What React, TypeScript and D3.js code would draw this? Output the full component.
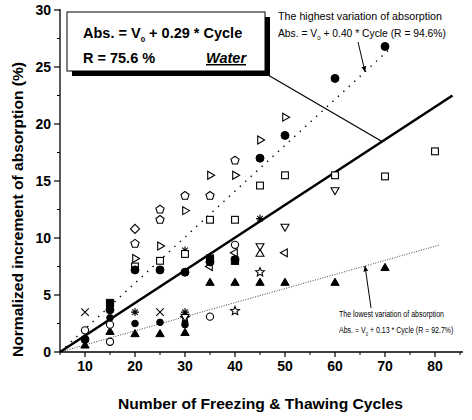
import React from "react";
import * as d3 from "d3";

// ---- data ----
const xTicks = [10, 20, 30, 40, 50, 60, 70, 80];
const yTicks = [0, 5, 10, 15, 20, 25, 30];

const filledCircleX = [10, 15, 20, 25, 30, 35, 40, 45, 50, 60, 70];
const filledCircleY = [1.1, 3.7, 7.2, 7.2, 7.0, 7.9, 8.1, 17.0, 19.0, 24.0, 26.8];
const triRightX = [20, 25, 30, 35, 40, 45, 50];
const triRightY = [8.2, 9.3, 12.4, 15.5, 15.5, 18.6, 20.6];
const pentagonX = [20, 25, 25, 30, 35, 40];
const pentagonY = [9.5, 12.5, 11.6, 13.7, 13.7, 16.8];
const diamondX = [20];
const diamondY = [10.8];
const squareX = [20, 25, 30, 35, 40, 45, 50, 60, 70, 80];
const squareY = [7.5, 8.0, 8.6, 11.6, 11.6, 14.6, 15.5, 15.5, 15.4, 17.6];
const triDownX = [30, 45, 50, 60];
const triDownY = [3.1, 9.3, 11.0, 14.2];
const triUpX = [45];
const triUpY = [8.6];
const filledTriX = [10, 15, 20, 25, 30, 35, 40, 45, 50, 60, 70];
const filledTriY = [0.6, 1.8, 1.6, 1.6, 1.7, 6.1, 6.1, 6.1, 6.1, 6.1, 7.4];
const openCircleX = [10, 15, 15, 35, 40];
const openCircleY = [1.9, 0.9, 2.4, 3.1, 9.4];
const crossX = [10, 25];
const crossY = [3.5, 3.5];
const asteriskX = [20, 30, 30, 45];
const asteriskY = [3.5, 3.5, 8.9, 11.7];
const filledDotX = [15, 20, 25, 30];
const filledDotY = [3.0, 2.5, 2.6, 2.4];
const starX = [30, 40, 45];
const starY = [3.0, 3.6, 7.0];
const triLeftX = [35, 40, 50];
const triLeftY = [7.5, 8.7, 8.7];
const filledSquareX = [15, 35, 40];
const filledSquareY = [4.3, 8.2, 8.0];

const mainFitX = [5, 83.5];
const mainFitY = [0, 22.5];
const highFitX = [5, 71];
const highFitY = [0, 26.6];
const lowFitX = [5, 81];
const lowFitY = [0, 9.4];

const W = 472;
const H = 420;
const FONT = "'Liberation Sans', Arial, Helvetica, sans-serif";

type MarkerKind =
  | "filledCircle"
  | "openCircle"
  | "triRight"
  | "triLeft"
  | "triDown"
  | "triUp"
  | "filledTri"
  | "pentagon"
  | "diamond"
  | "square"
  | "filledSquare"
  | "cross"
  | "asterisk"
  | "star"
  | "filledDot";

const series: { kind: MarkerKind; xs: number[]; ys: number[] }[] = [
  { kind: "filledTri", xs: filledTriX, ys: filledTriY },
  { kind: "openCircle", xs: openCircleX, ys: openCircleY },
  { kind: "cross", xs: crossX, ys: crossY },
  { kind: "asterisk", xs: asteriskX, ys: asteriskY },
  { kind: "filledDot", xs: filledDotX, ys: filledDotY },
  { kind: "star", xs: starX, ys: starY },
  { kind: "triLeft", xs: triLeftX, ys: triLeftY },
  { kind: "square", xs: squareX, ys: squareY },
  { kind: "triDown", xs: triDownX, ys: triDownY },
  { kind: "triUp", xs: triUpX, ys: triUpY },
  { kind: "pentagon", xs: pentagonX, ys: pentagonY },
  { kind: "diamond", xs: diamondX, ys: diamondY },
  { kind: "triRight", xs: triRightX, ys: triRightY },
  { kind: "filledSquare", xs: filledSquareX, ys: filledSquareY },
  { kind: "filledCircle", xs: filledCircleX, ys: filledCircleY },
];

function poly(cx: number, cy: number, r: number, n: number, rot: number) {
  const pts: string[] = [];
  for (let i = 0; i < n; i++) {
    const a = rot + (i * 2 * Math.PI) / n;
    pts.push(`${(cx + r * Math.cos(a)).toFixed(2)},${(cy + r * Math.sin(a)).toFixed(2)}`);
  }
  return pts.join(" ");
}

function starPts(cx: number, cy: number, r: number) {
  const pts: string[] = [];
  for (let i = 0; i < 10; i++) {
    const a = -Math.PI / 2 + (i * Math.PI) / 5;
    const rr = i % 2 === 0 ? r : r * 0.45;
    pts.push(`${(cx + rr * Math.cos(a)).toFixed(2)},${(cy + rr * Math.sin(a)).toFixed(2)}`);
  }
  return pts.join(" ");
}

function Marker({ kind, cx, cy }: { kind: MarkerKind; cx: number; cy: number }) {
  const s = { stroke: "#000", strokeWidth: 1.1, fill: "#fff" };
  const f = { stroke: "#000", strokeWidth: 1, fill: "#000" };
  switch (kind) {
    case "filledCircle":
      return <circle cx={cx} cy={cy} r={4} {...f} />;
    case "filledDot":
      return <circle cx={cx} cy={cy} r={3.3} {...f} />;
    case "openCircle":
      return <circle cx={cx} cy={cy} r={3.6} {...s} />;
    case "triRight":
      return <polygon points={poly(cx, cy, 4.6, 3, 0)} {...s} />;
    case "triLeft":
      return <polygon points={poly(cx, cy, 4.6, 3, Math.PI)} {...s} />;
    case "triDown":
      return <polygon points={poly(cx, cy, 4.6, 3, Math.PI / 2)} {...s} />;
    case "triUp":
      return <polygon points={poly(cx, cy, 4.6, 3, -Math.PI / 2)} {...s} />;
    case "filledTri":
      return <polygon points={poly(cx, cy + 0.5, 4.8, 3, -Math.PI / 2)} {...f} />;
    case "pentagon":
      return <polygon points={poly(cx, cy, 4.3, 5, -Math.PI / 2)} {...s} />;
    case "diamond":
      return <polygon points={poly(cx, cy, 4.6, 4, 0)} {...s} />;
    case "square":
      return <rect x={cx - 3.4} y={cy - 3.4} width={6.8} height={6.8} {...s} />;
    case "filledSquare":
      return <rect x={cx - 3.6} y={cy - 3.6} width={7.2} height={7.2} {...f} />;
    case "cross":
      return (
        <path
          d={`M${cx - 3.8},${cy - 3.8}L${cx + 3.8},${cy + 3.8}M${cx - 3.8},${cy + 3.8}L${cx + 3.8},${cy - 3.8}`}
          stroke="#000"
          strokeWidth={1.1}
        />
      );
    case "asterisk": {
      let d = "";
      for (let i = 0; i < 4; i++) {
        const a = (i * Math.PI) / 4;
        d += `M${cx - 4 * Math.cos(a)},${cy - 4 * Math.sin(a)}L${cx + 4 * Math.cos(a)},${cy + 4 * Math.sin(a)}`;
      }
      return <path d={d} stroke="#000" strokeWidth={1.1} />;
    }
    case "star":
      return <polygon points={starPts(cx, cy, 4.6)} {...s} />;
  }
  return null;
}

export default function App() {
  const x = d3.scaleLinear().domain([5, 85.6]).range([60, 463]);
  const y = d3.scaleLinear().domain([0, 30]).range([352, 10]);
  const line = d3
    .line<[number, number]>()
    .x((d) => x(d[0]))
    .y((d) => y(d[1]));
  const zip = (a: number[], b: number[]) => a.map((v, i) => [v, b[i]] as [number, number]);

  const xMinor = d3.range(5, 86, 5).filter((v) => v % 10 !== 0);
  const yMinor = d3.range(2.5, 30, 5);

  // callout target on the main line
  const tX = 69.4;
  const tY = mainFitY[0] + ((mainFitY[1] - mainFitY[0]) * (tX - mainFitX[0])) / (mainFitX[1] - mainFitX[0]);

  // annotation arrow targets
  const hiX = 66;
  const hiY = (highFitY[1] * (hiX - 5)) / (highFitX[1] - 5);
  const loX = 66;
  const loY = (lowFitY[1] * (loX - 5)) / (lowFitX[1] - 5);

  return (
    <svg
      width={W}
      height={H}
      style={{ position: "absolute", left: 0, top: 0, background: "#fff" }}
      fontFamily={FONT}
    >
      <defs>
        <marker id="ah" viewBox="0 0 10 10" refX="9" refY="5" markerWidth="6" markerHeight="6" orient="auto">
          <path d="M0,1L10,5L0,9z" fill="#000" />
        </marker>
      </defs>
      <rect width={W} height={H} fill="#fff" />

      {/* axes */}
      <line x1={60} y1={y(30) - 1} x2={60} y2={y(0)} stroke="#000" strokeWidth={1.3} />
      <line x1={60} y1={y(0)} x2={463} y2={y(0)} stroke="#000" strokeWidth={1.3} />
      {yTicks.map((t) => (
        <g key={"yt" + t}>
          <line x1={54} x2={60} y1={y(t)} y2={y(t)} stroke="#000" strokeWidth={1.2} />
          <text x={51} y={y(t) + 5} textAnchor="end" fontSize={14} fontWeight="bold">
            {t}
          </text>
        </g>
      ))}
      {yMinor.map((t) => (
        <line key={"ym" + t} x1={57} x2={60} y1={y(t)} y2={y(t)} stroke="#000" strokeWidth={1} />
      ))}
      {xTicks.map((t) => (
        <g key={"xt" + t}>
          <line x1={x(t)} x2={x(t)} y1={y(0)} y2={y(0) + 5} stroke="#000" strokeWidth={1.2} />
          <text x={x(t)} y={371} textAnchor="middle" fontSize={14} fontWeight="bold">
            {t}
          </text>
        </g>
      ))}
      {xMinor.map((t) => (
        <line key={"xm" + t} x1={x(t)} x2={x(t)} y1={y(0)} y2={y(0) + 3} stroke="#000" strokeWidth={1} />
      ))}
      <text
        x={118}
        y={409}
        fontSize={15}
        fontWeight="bold"
        textLength={285}
        lengthAdjust="spacingAndGlyphs"
      >
        Number of Freezing &amp; Thawing Cycles
      </text>
      <text
        transform={`translate(23,357) rotate(-90)`}
        fontSize={15}
        fontWeight="bold"
        textLength={295}
        lengthAdjust="spacingAndGlyphs"
      >
        Normalized increment of absorption (%)
      </text>

      {/* fit lines */}
      <path d={line(zip(lowFitX, lowFitY)) || ""} stroke="#444" strokeWidth={1} strokeDasharray="1 1.5" fill="none" />
      <path d={line(zip(highFitX, highFitY)) || ""} stroke="#000" strokeWidth={1.4} strokeDasharray="1.4 6" fill="none" />
      <path d={line(zip(mainFitX, mainFitY)) || ""} stroke="#000" strokeWidth={2.6} fill="none" />

      {/* data markers */}
      {series.map((s, si) =>
        s.xs.map((v, i) => <Marker key={si + "-" + i} kind={s.kind} cx={x(v)} cy={y(s.ys[i])} />)
      )}

      {/* legend box with shadow */}
      <line x1={268} y1={75} x2={x(tX)} y2={y(tY)} stroke="#000" strokeWidth={1.2} />
      <rect x={72} y={17} width={198} height={59} fill="#000" />
      <rect x={67} y={12} width={198} height={59} fill="#fff" stroke="#000" strokeWidth={1} />
      <text x={83} y={38} fontSize={14.5} fontWeight="bold">
        Abs. = V
        <tspan fontSize={8} dy={4}>
          0
        </tspan>
        <tspan dy={-4}> + 0.29 * Cycle</tspan>
      </text>
      <text x={83} y={63} fontSize={14.5} fontWeight="bold">
        R = 75.6 %
      </text>
      <text x={206} y={63} fontSize={14.5} fontWeight="bold" fontStyle="italic" textDecoration="underline">
        Water
      </text>

      {/* top annotation */}
      <text x={278} y={20} fontSize={10.3} textLength={164} lengthAdjust="spacingAndGlyphs">
        The highest variation of absorption
      </text>
      <text x={278} y={37} fontSize={10.3}>
        Abs. = V
        <tspan fontSize={6} dy={3}>
          0
        </tspan>
        <tspan dy={-3}> + 0.40 * Cycle (R = 94.6%)</tspan>
      </text>
      <line x1={358} y1={42} x2={x(hiX)} y2={y(hiY)} stroke="#000" strokeWidth={1} markerEnd="url(#ah)" />

      {/* bottom annotation */}
      <g transform="translate(339,317) scale(0.74,1)">
        <text x={0} y={0} fontSize={9.5}>
          The lowest variation of absorption
        </text>
      </g>
      <g transform="translate(339,333) scale(0.74,1)">
        <text x={0} y={0} fontSize={9.5}>
          Abs. = V
          <tspan fontSize={5.5} dy={3}>
            0
          </tspan>
          <tspan dy={-3}> + 0.13 * Cycle (R = 92.7%)</tspan>
        </text>
      </g>
      <line x1={371} y1={308} x2={x(loX)} y2={y(loY)} stroke="#000" strokeWidth={1} markerEnd="url(#ah)" />
    </svg>
  );
}
